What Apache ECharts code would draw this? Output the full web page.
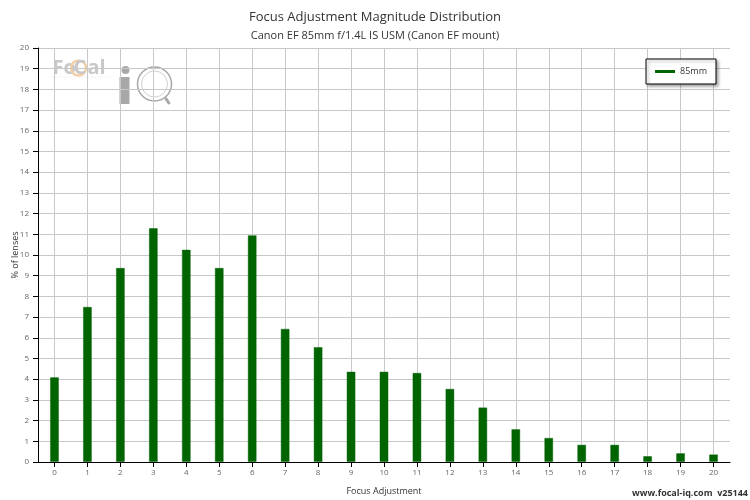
<!DOCTYPE html>
<html>
<head>
<meta charset="utf-8">
<script src="https://cdn.jsdelivr.net/npm/echarts@6/dist/echarts.min.js"></script>
<style>
html,body{margin:0;padding:0;background:#fff;}
#chart{width:750px;height:500px;}
</style>
</head>
<body>
<div id="chart"></div>
<script>
var categories = ['0','1','2','3','4','5','6','7','8','9','10','11','12','13','14','15','16','17','18','19','20'];
var seriesName = '85mm';
var values = [4.1, 7.5, 9.38, 11.3, 10.26, 9.38, 10.96, 6.44, 5.56, 4.37, 4.37, 4.31, 3.54, 2.64, 1.59, 1.17, 0.84, 0.84, 0.29, 0.43, 0.37];
var yTicks = {min: 0, max: 20, interval: 1};
var titleText = 'Focus Adjustment Magnitude Distribution';
var subtitleText = 'Canon EF 85mm f/1.4L IS USM (Canon EF mount)';
var xName = 'Focus Adjustment';
var yName = '% of lenses';
var creditText = 'www.focal-iq.com  v25144';

var FONT = '"Open Sans", sans-serif';
var chart = echarts.init(document.getElementById('chart'), null, {renderer: 'canvas'});
var option = {
  animation: false,
  backgroundColor: '#ffffff',
  textStyle: {fontFamily: FONT},
  title: {
    text: titleText,
    subtext: subtitleText,
    left: 'center',
    top: 6,
    itemGap: 6,
    textStyle: {fontFamily: FONT, fontSize: 13, fontWeight: 'normal', color: '#333'},
    subtextStyle: {fontFamily: FONT, fontSize: 11, color: '#333'}
  },
  legend: {
    data: [{name: seriesName, icon: 'rect', itemStyle: {borderWidth: 0}}],
    right: 34,
    top: 59,
    orient: 'vertical',
    itemWidth: 20,
    itemHeight: 3,
    itemGap: 5,
    padding: [8, 9, 8, 9],
    borderColor: '#000',
    borderWidth: 1,
    backgroundColor: '#fff',
    shadowColor: 'rgba(0,0,0,0.35)',
    shadowBlur: 3,
    shadowOffsetX: 2,
    shadowOffsetY: 2,
    itemStyle: {borderWidth: 0},
    textStyle: {fontFamily: FONT, fontSize: 9, color: '#333'}
  },
  grid: {left: 38, right: 20, top: 48, bottom: 38, containLabel: false, outerBoundsMode: 'none'},
  xAxis: {
    type: 'category',
    data: categories,
    name: xName,
    nameLocation: 'middle',
    nameGap: 25,
    nameMoveOverlap: false,
    nameTextStyle: {fontFamily: FONT, fontSize: 9, color: '#333'},
    axisLine: {show: true, lineStyle: {color: '#000', width: 1}},
    axisTick: {show: true, alignWithLabel: true, length: 5, lineStyle: {color: '#000'}},
    axisLabel: {fontFamily: FONT, fontSize: 8, color: '#666', margin: 7},
    splitLine: {show: true, alignWithLabel: true, lineStyle: {color: '#c8c8c8', width: 1}}
  },
  yAxis: {
    type: 'value',
    min: yTicks.min,
    max: yTicks.max,
    interval: yTicks.interval,
    name: yName,
    nameLocation: 'middle',
    nameGap: 18,
    nameMoveOverlap: false,
    nameTextStyle: {fontFamily: FONT, fontSize: 9, color: '#333'},
    axisLine: {show: true, lineStyle: {color: '#000', width: 1}},
    axisTick: {show: true, length: 5, lineStyle: {color: '#000'}},
    axisLabel: {fontFamily: FONT, fontSize: 8, color: '#666', margin: 9},
    splitLine: {show: true, lineStyle: {color: '#c8c8c8', width: 1}}
  },
  series: [{
    name: seriesName,
    type: 'bar',
    data: values,
    barWidth: 9,
    itemStyle: {color: '#006400', borderColor: 'rgba(0,100,0,0.45)', borderWidth: 1},
    z: 3
  }],
  graphic: [
    {
      type: 'group', left: 50, top: 58, silent: true, z: 1,
      children: [
        {type: 'text', x: 0, y: 3, style: {text: 'Fo', font: 'bold 20px ' + FONT, fill: '#c8c8c8'}},
        {type: 'circle', shape: {cx: 26, cy: 13, r: 7.5}, style: {fill: 'none', stroke: '#f2cfa6', lineWidth: 2.5}},
        {type: 'text', x: 21, y: 3, style: {text: 'C', font: 'bold 20px ' + FONT, fill: '#c8c8c8'}},
        {type: 'text', x: 35, y: 3, style: {text: 'al', font: 'bold 20px ' + FONT, fill: '#c8c8c8'}},
        {type: 'line', shape: {x1: 0, y1: 22, x2: 58, y2: 22}, style: {stroke: '#e0e0e0', lineWidth: 1, lineDash: [1, 2]}},
        {type: 'circle', shape: {cx: 73, cy: 15, r: 4}, style: {fill: '#a8a8a8'}},
        {type: 'rect', shape: {x: 67, y: 22, width: 10, height: 27}, style: {fill: '#a8a8a8'}},
        {type: 'circle', shape: {cx: 102, cy: 29, r: 17}, style: {fill: 'none', stroke: '#a8a8a8', lineWidth: 1.5}},
        {type: 'circle', shape: {cx: 102, cy: 29, r: 13}, style: {fill: 'none', stroke: '#d0d0d0', lineWidth: 1}},
        {type: 'line', shape: {x1: 113, y1: 43, x2: 117, y2: 49}, style: {stroke: '#a8a8a8', lineWidth: 3}}
      ]
    },
    {
      type: 'text', right: 2, top: 489, silent: true,
      style: {text: creditText, font: 'bold 9px ' + FONT, fill: '#333'}
    }
  ]
};
chart.setOption(option);
</script>
</body>
</html>
